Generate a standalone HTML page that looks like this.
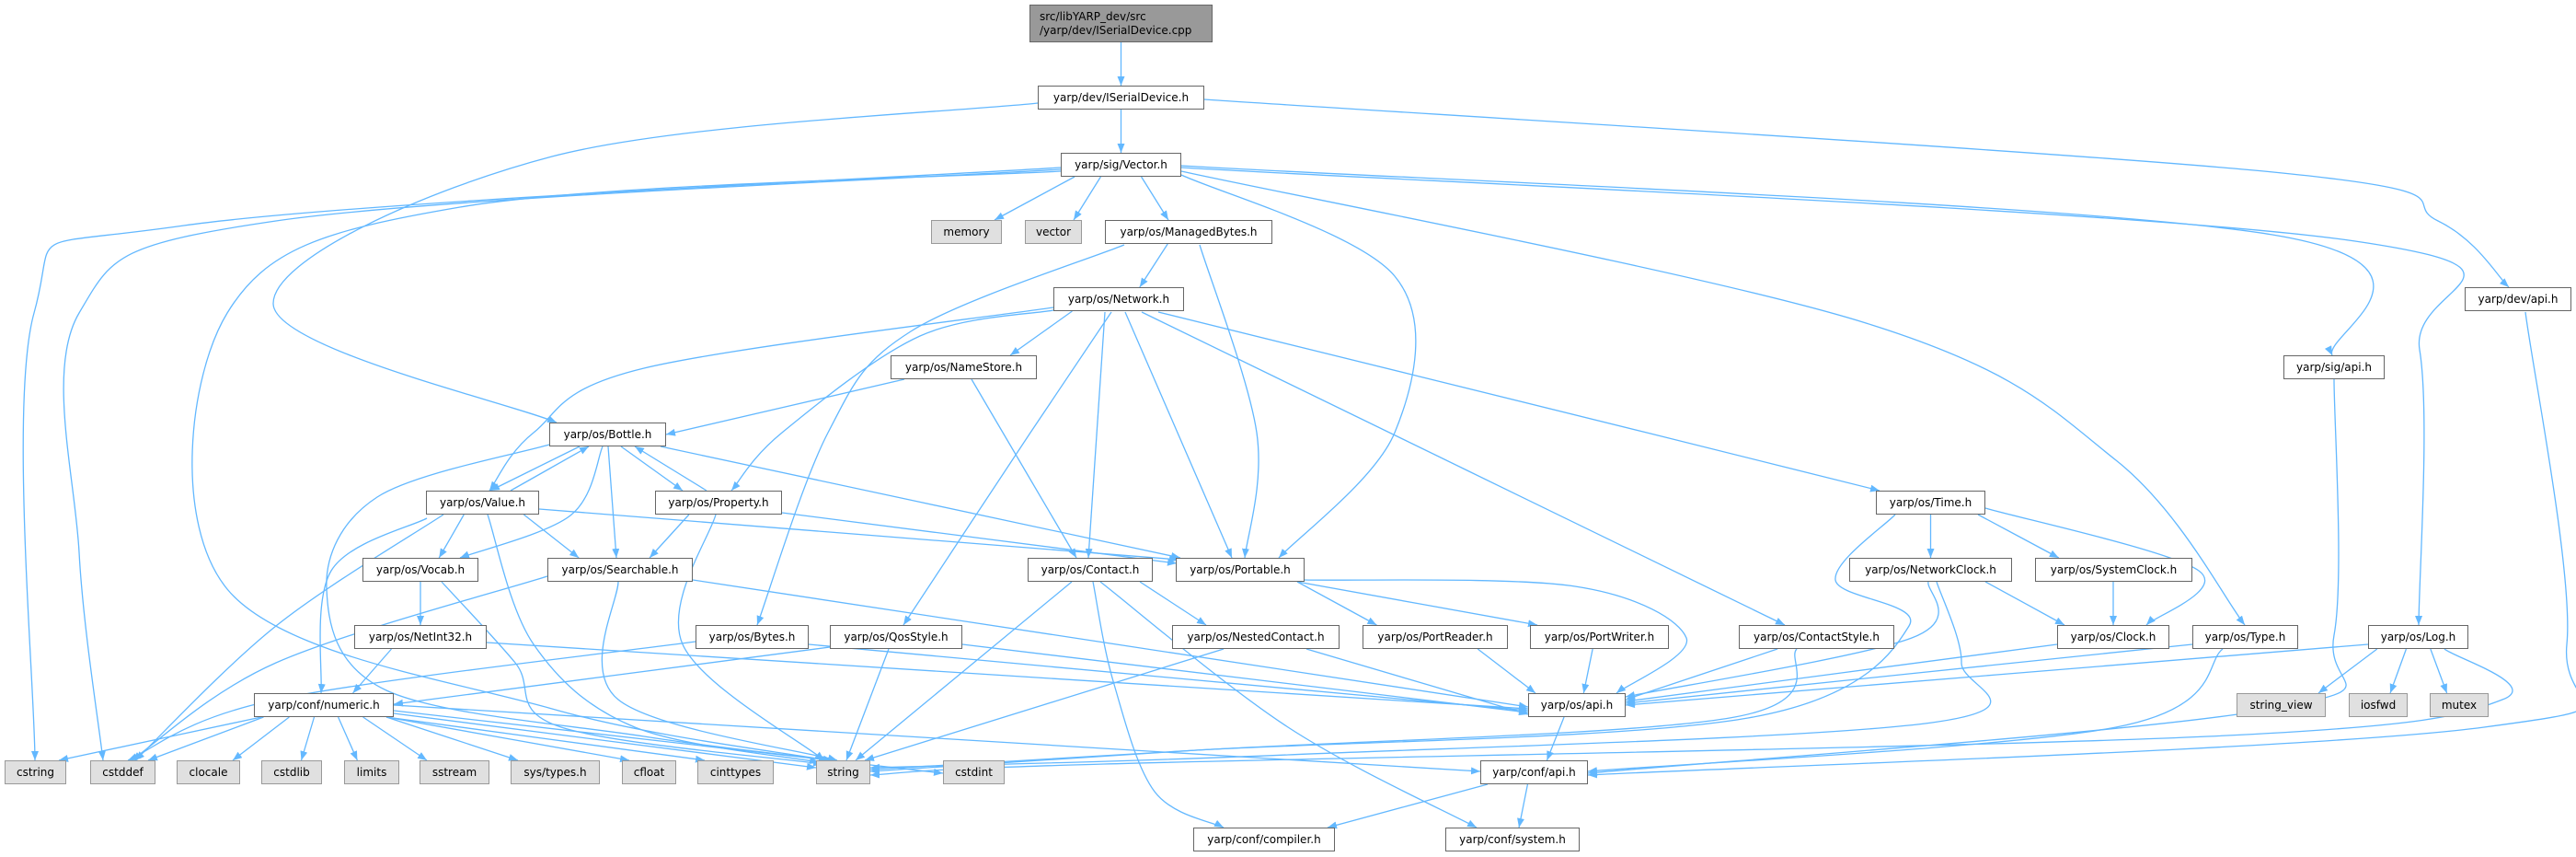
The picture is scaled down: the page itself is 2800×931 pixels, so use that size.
<!DOCTYPE html>
<html><head><meta charset="utf-8">
<style>
html,body{margin:0;padding:0;background:#fff;}
#wrap{position:relative;width:2800px;height:931px;overflow:hidden;background:#fff;}
svg{position:absolute;left:0;top:0;}
.n{position:absolute;box-sizing:border-box;border:1px solid #666;background:#fff;display:flex;align-items:center;justify-content:center;font-family:"DejaVu Sans","Liberation Sans",sans-serif;font-size:12px;color:#000;white-space:nowrap;}
.s{background:#e0e0e0;border-color:#999;}
.r{background:#999;border-color:#666;justify-content:flex-start;padding-left:10px;line-height:15px;text-align:left;}
</style></head><body><div id="wrap">
<svg id="g" width="2800" height="931" viewBox="0 0 2800 931">
<defs><marker id="a" markerUnits="userSpaceOnUse" markerWidth="11" markerHeight="9" refX="10" refY="4" orient="auto"><path d="M0,0 L10,4 L0,8 z" fill="#63b8ff"/></marker></defs>
</svg>
<div class="n r" style="left:1119px;top:5px;width:199px;height:41px">src/libYARP_dev/src<br>/yarp/dev/ISerialDevice.cpp</div>
<div class="n" style="left:1128px;top:93px;width:181px;height:26px">yarp/dev/ISerialDevice.h</div>
<div class="n" style="left:1153px;top:166px;width:131px;height:26px">yarp/sig/Vector.h</div>
<div class="n s" style="left:1012px;top:239px;width:77px;height:26px">memory</div>
<div class="n s" style="left:1114px;top:239px;width:62px;height:26px">vector</div>
<div class="n" style="left:1201px;top:239px;width:182px;height:26px">yarp/os/ManagedBytes.h</div>
<div class="n" style="left:1145px;top:312px;width:142px;height:26px">yarp/os/Network.h</div>
<div class="n" style="left:2679px;top:312px;width:116px;height:26px">yarp/dev/api.h</div>
<div class="n" style="left:968px;top:386px;width:159px;height:26px">yarp/os/NameStore.h</div>
<div class="n" style="left:2482px;top:386px;width:110px;height:26px">yarp/sig/api.h</div>
<div class="n" style="left:597px;top:459px;width:127px;height:26px">yarp/os/Bottle.h</div>
<div class="n" style="left:463px;top:533px;width:123px;height:26px">yarp/os/Value.h</div>
<div class="n" style="left:712px;top:533px;width:138px;height:26px">yarp/os/Property.h</div>
<div class="n" style="left:2039px;top:533px;width:119px;height:26px">yarp/os/Time.h</div>
<div class="n" style="left:394px;top:606px;width:126px;height:26px">yarp/os/Vocab.h</div>
<div class="n" style="left:595px;top:606px;width:158px;height:26px">yarp/os/Searchable.h</div>
<div class="n" style="left:1117px;top:606px;width:136px;height:26px">yarp/os/Contact.h</div>
<div class="n" style="left:1278px;top:606px;width:140px;height:26px">yarp/os/Portable.h</div>
<div class="n" style="left:2010px;top:606px;width:177px;height:26px">yarp/os/NetworkClock.h</div>
<div class="n" style="left:2212px;top:606px;width:171px;height:26px">yarp/os/SystemClock.h</div>
<div class="n" style="left:385px;top:679px;width:144px;height:26px">yarp/os/NetInt32.h</div>
<div class="n" style="left:756px;top:679px;width:123px;height:26px">yarp/os/Bytes.h</div>
<div class="n" style="left:902px;top:679px;width:144px;height:26px">yarp/os/QosStyle.h</div>
<div class="n" style="left:1274px;top:679px;width:182px;height:26px">yarp/os/NestedContact.h</div>
<div class="n" style="left:1481px;top:679px;width:158px;height:26px">yarp/os/PortReader.h</div>
<div class="n" style="left:1663px;top:679px;width:151px;height:26px">yarp/os/PortWriter.h</div>
<div class="n" style="left:1890px;top:679px;width:169px;height:26px">yarp/os/ContactStyle.h</div>
<div class="n" style="left:2236px;top:679px;width:122px;height:26px">yarp/os/Clock.h</div>
<div class="n" style="left:2383px;top:679px;width:115px;height:26px">yarp/os/Type.h</div>
<div class="n" style="left:2574px;top:679px;width:109px;height:26px">yarp/os/Log.h</div>
<div class="n" style="left:276px;top:753px;width:152px;height:26px">yarp/conf/numeric.h</div>
<div class="n" style="left:1661px;top:753px;width:106px;height:26px">yarp/os/api.h</div>
<div class="n s" style="left:2431px;top:753px;width:97px;height:26px">string_view</div>
<div class="n s" style="left:2553px;top:753px;width:64px;height:26px">iosfwd</div>
<div class="n s" style="left:2641px;top:753px;width:64px;height:26px">mutex</div>
<div class="n s" style="left:5px;top:826px;width:67px;height:26px">cstring</div>
<div class="n s" style="left:98px;top:826px;width:71px;height:26px">cstddef</div>
<div class="n s" style="left:192px;top:826px;width:69px;height:26px">clocale</div>
<div class="n s" style="left:284px;top:826px;width:66px;height:26px">cstdlib</div>
<div class="n s" style="left:374px;top:826px;width:60px;height:26px">limits</div>
<div class="n s" style="left:456px;top:826px;width:76px;height:26px">sstream</div>
<div class="n s" style="left:555px;top:826px;width:97px;height:26px">sys/types.h</div>
<div class="n s" style="left:676px;top:826px;width:59px;height:26px">cfloat</div>
<div class="n s" style="left:758px;top:826px;width:83px;height:26px">cinttypes</div>
<div class="n s" style="left:887px;top:826px;width:59px;height:26px">string</div>
<div class="n s" style="left:1025px;top:826px;width:67px;height:26px">cstdint</div>
<div class="n" style="left:1609px;top:826px;width:117px;height:26px">yarp/conf/api.h</div>
<div class="n" style="left:1297px;top:899px;width:154px;height:26px">yarp/conf/compiler.h</div>
<div class="n" style="left:1571px;top:899px;width:146px;height:26px">yarp/conf/system.h</div>
</div>
<script>
var N={root:[1119,5,199,41],ISD:[1128,93,181,26],Vector:[1153,166,131,26],memory:[1012,239,77,26],vector:[1114,239,62,26],MB:[1201,239,182,26],Network:[1145,312,142,26],devapi:[2679,312,116,26],NameStore:[968,386,159,26],sigapi:[2482,386,110,26],Bottle:[597,459,127,26],Value:[463,533,123,26],Property:[712,533,138,26],Time:[2039,533,119,26],Vocab:[394,606,126,26],Searchable:[595,606,158,26],Contact:[1117,606,136,26],Portable:[1278,606,140,26],NC:[2010,606,177,26],SC:[2212,606,171,26],NetInt32:[385,679,144,26],Bytes:[756,679,123,26],Qos:[902,679,144,26],Nested:[1274,679,182,26],PR:[1481,679,158,26],PW:[1663,679,151,26],CS:[1890,679,169,26],Clock:[2236,679,122,26],Type:[2383,679,115,26],Log:[2574,679,109,26],numeric:[276,753,152,26],osapi:[1661,753,106,26],sv:[2431,753,97,26],iosfwd:[2553,753,64,26],mutex:[2641,753,64,26],cstring:[5,826,67,26],cstddef:[98,826,71,26],clocale:[192,826,69,26],cstdlib:[284,826,66,26],limits:[374,826,60,26],sstream:[456,826,76,26],systypes:[555,826,97,26],cfloat:[676,826,59,26],cinttypes:[758,826,83,26],string:[887,826,59,26],cstdint:[1025,826,67,26],confapi:[1609,826,117,26],compiler:[1297,899,154,26],system:[1571,899,146,26]};
function C(n){var b=N[n];return [b[0]+b[2]/2,b[1]+b[3]/2];}
function cl(v,a,b){return Math.max(a,Math.min(b,v));}
function anc(n,tw,end){var b=N[n],c=C(n);
 if(tw[1]>b[1]+b[3]+2) return [cl(c[0]+(tw[0]-c[0])*0.3,b[0]+8,b[0]+b[2]-8),b[1]+b[3]];
 if(tw[1]<b[1]-2) return [cl(c[0]+(tw[0]-c[0])*0.3,b[0]+8,b[0]+b[2]-8),b[1]];
 return tw[0]>c[0]?[b[0]+b[2],cl(tw[1],b[1]+4,b[1]+b[3]-4)]:[b[0],cl(tw[1],b[1]+4,b[1]+b[3]-4)];}
var E=[
['root','ISD'],['ISD','Vector'],
['ISD','Bottle',[[600,170],[297,330]],[1128,112]],
['ISD','devapi',[[2471,187],[2650,240]],[1309,108],[2727,312]],
['Vector','memory'],['Vector','vector'],['Vector','MB'],
['Vector','cstring',[[200,245],[37,340]],[1153,182],[38,826]],
['Vector','cstddef',[[300,240],[86,340],[86,600]],[1153,184],[112,826]],
['Vector','string',[[500,225],[247,340],[247,640],[600,770]],[1153,186],[900,826]],
['Vector','Portable',[[1516,300],[1516,470]],[1284,190],[1390,606]],
['Vector','sigapi',[[2470,255]],[1284,180],[2535,386]],
['Vector','Log',[[2560,262],[2630,380]],[1284,182],[2629,679]],
['Vector','Type',[[2025,350],[2300,500]],[1284,186],[2440,679]],
['MB','Network'],
['MB','Bytes',[[990,360],[900,470]],[1222,266],[823,679]],
['MB','Portable',[[1366,470]],[1304,266],[1353,606]],
['Network','NameStore'],
['Network','Value',[[700,400],[580,470]],[1145,334],[532,533]],
['Network','Property',[[1000,365],[850,470]],[1145,337],[795,533]],
['Network','Contact',null,[1201,339],[1183,606]],
['Network','Portable',null,[1223,339],[1339,606]],
['Network','Qos',[[1120,470]],[1208,339],[982,679]],
['Network','CS',null,[1241,339],[1940,679]],
['Network','Time',[[1790,470]],[1259,339],[2043,533]],
['NameStore','Bottle',null,[983,412],[724,472]],
['NameStore','Contact',null,[1056,412],[1170,606]],
['Bottle','Value',null,[630,485],[533,533]],['Value','Bottle',null,[555,533],[640,485]],
['Bottle','Property',null,[675,485],[742,533]],['Property','Bottle',null,[768,533],[690,485]],
['Bottle','Searchable',null,[661,485],[670,606]],
['Bottle','Vocab',[[620,560]],[655,485],[500,606]],
['Bottle','Portable',null,[718,485],[1283,606]],
['Bottle','string',[[410,540],[355,640],[420,750],[700,800]],[597,483],[905,826]],
['Value','Vocab'],['Value','Searchable'],
['Value','Portable',null,[586,553],[1281,608]],
['Value','string',[[580,700],[690,790]],[530,559],[890,828]],
['Value','cstddef',[[300,680]],[482,559],[147,826]],
['Value','numeric',[[360,620]],[464,563],[349,753]],
['Property','Searchable'],
['Property','Portable',null,[850,557],[1279,612]],
['Property','string',[[742,700]],[778,559],[896,826]],
['Vocab','NetInt32'],
['Vocab','string',[[560,720],[610,790]],[480,632],[894,830]],
['Searchable','cstddef',[[300,720]],[595,626],[143,826]],
['Searchable','string',[[672,760]],[672,632],[910,826]],
['Searchable','osapi',null,[753,630],[1661,768]],
['NetInt32','numeric'],
['NetInt32','osapi',null,[529,698],[1661,770]],
['Bytes','cstddef',[[300,760]],[756,697],[139,826]],
['Bytes','osapi',null,[879,700],[1661,772]],
['Qos','numeric',null,[902,703],[428,765]],
['Qos','string',null,[966,705],[920,826]],
['Qos','osapi',null,[1046,700],[1661,774]],
['Contact','string',null,[1165,632],[930,826]],
['Contact','Nested'],
['Contact','compiler',[[1210,740],[1255,860]],[1188,632],[1330,899]],
['Contact','system',[[1400,790]],[1196,632],[1605,899]],
['Portable','PR'],['Portable','PW'],
['Portable','osapi',[[1712,637],[1833,693]],[1418,630],[1757,753]],
['Nested','string',null,[1330,705],[940,826]],
['Nested','osapi',null,[1420,705],[1661,776]],
['PR','osapi'],['PW','osapi'],
['CS','osapi',null,[1932,705],[1767,760]],
['CS','string',[[1880,780],[1300,815]],[1953,705],[946,838]],
['Time','NC'],['Time','SC'],
['Time','Clock',[[2390,620]],[2158,552],[2333,679]],
['Time','string',[[1995,630],[2075,680],[1900,780],[1300,815]],[2060,559],[946,836]],
['NC','Clock'],
['NC','osapi',[[2078,693]],[2096,632],[1767,757]],
['NC','string',[[2132,720],[2100,785],[1400,820]],[2105,632],[946,834]],
['SC','Clock',null,[2297,632],[2297,679]],
['Clock','osapi',null,[2236,700],[1767,762]],
['Type','osapi',null,[2383,700],[1767,764]],
['Type','confapi',[[2300,790]],[2416,705],[1726,838]],
['Log','sv'],['Log','iosfwd'],['Log','mutex'],
['Log','osapi',null,[2574,700],[1767,766]],
['Log','string',[[2720,760],[2400,800],[1200,830]],[2657,705],[946,842]],
['sigapi','confapi',[[2537,690],[2470,770]],[2537,412],[1726,840]],
['devapi','confapi',[[2790,700],[2700,790]],[2745,339],[1726,842]],
['osapi','confapi'],['confapi','compiler'],['confapi','system'],
['numeric','cstring'],['numeric','cstddef'],['numeric','clocale'],['numeric','cstdlib'],['numeric','limits'],['numeric','sstream'],['numeric','systypes'],['numeric','cfloat'],['numeric','cinttypes'],
['numeric','string',null,[428,775],[887,834]],
['numeric','cstdint',null,[428,772],[1025,840]],
['numeric','confapi',null,[428,766],[1609,838]]
];
var g=document.getElementById('g'),ns='http://www.w3.org/2000/svg';
E.forEach(function(e){var v=e[2]||[];
 var s=e[3]||anc(e[0],v.length?v[0]:C(e[1]));
 var t=e[4]||anc(e[1],v.length?v[v.length-1]:C(e[0]));
 var p=[s].concat(v,[t]);var d='M'+s[0]+','+s[1];
 for(var i=0;i<p.length-1;i++){var a=p[i>0?i-1:0],b=p[i],c=p[i+1],dd=p[i+2<p.length?i+2:i+1];
  var c1=[b[0]+(c[0]-a[0])/6,b[1]+(c[1]-a[1])/6],c2=[c[0]-(dd[0]-b[0])/6,c[1]-(dd[1]-b[1])/6];
  d+=' C'+c1[0].toFixed(1)+','+c1[1].toFixed(1)+' '+c2[0].toFixed(1)+','+c2[1].toFixed(1)+' '+c[0]+','+c[1];}
 var el=document.createElementNS(ns,'path');el.setAttribute('d',d);el.setAttribute('fill','none');el.setAttribute('stroke','#63b8ff');el.setAttribute('stroke-width','1.3');el.setAttribute('marker-end','url(#a)');g.appendChild(el);});
</script>
</body></html>
